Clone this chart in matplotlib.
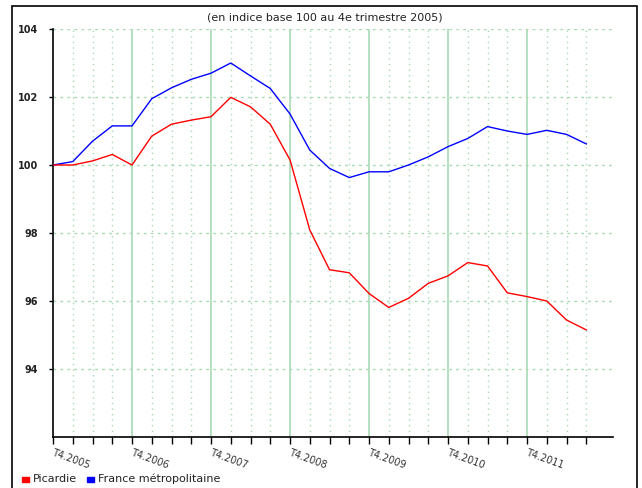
import matplotlib
matplotlib.use("Agg")
import matplotlib.pyplot as plt
from matplotlib.patches import Rectangle
import numpy as np

quarters = list(range(28))  # T4.2005 .. T3.2012
tick_labels = ["T4.2005", "T4.2006", "T4.2007", "T4.2008", "T4.2009", "T4.2010", "T4.2011"]
picardie = [100.0, 100.0, 100.12, 100.31, 100.0, 100.85, 101.2, 101.32, 101.42, 101.99,
            101.71, 101.2, 100.15, 98.09, 96.92, 96.83, 96.22, 95.81, 96.08, 96.52,
            96.74, 97.13, 97.03, 96.24, 96.13, 96.0, 95.44, 95.15]
france = [100.0, 100.1, 100.7, 101.15, 101.15, 101.95, 102.27, 102.52, 102.7, 103.0,
          102.62, 102.25, 101.5, 100.44, 99.9, 99.63, 99.8, 99.8, 100.0, 100.24,
          100.54, 100.78, 101.13, 101.0, 100.9, 101.02, 100.9, 100.62]
yticks = [94, 96, 98, 100, 102, 104]

W, H = 642, 488
fig = plt.figure(figsize=(W / 100, H / 100), dpi=100)
fig.patch.set_facecolor("white")

# outer frame
fig.add_artist(Rectangle((12 / W, -0.01), (637 - 12) / W, (H - 6) / H + 0.01,
                         transform=fig.transFigure, fill=False, edgecolor="black", lw=1.2))

x0, x1 = 53, 613.3
y_top, y_bot = 29, 437
ax = fig.add_axes([x0 / W, 1 - y_bot / H, (x1 - x0) / W, (y_bot - y_top) / H])
step = (586.3 - 53) / 27
ax.set_xlim(0, (x1 - x0) / step)
ax.set_ylim(92, 104)

green = "#a9d9b5"
for q in quarters[1:]:
    if q % 4 == 0:
        ax.axvline(q, color=green, lw=1.2, zorder=1)
    else:
        ax.axvline(q, color=green, lw=1.0, ls=(0, (1, 3)), zorder=1)
for yv in yticks:
    ax.axhline(yv, color=green, lw=1.0, ls=(0, (2, 3)), zorder=1)

ax.plot(quarters, france, color="#0000ff", lw=1.0, zorder=3)
ax.plot(quarters, picardie, color="#ff0000", lw=1.0, zorder=3)

for s in ["top", "right"]:
    ax.spines[s].set_visible(False)
ax.spines["left"].set_linewidth(1.2)
ax.spines["bottom"].set_linewidth(1.2)
ax.spines["left"].set_bounds(92, 104)

ax.set_yticks(yticks)
ax.set_yticklabels([str(v) for v in yticks], fontsize=7, fontweight="bold", color="#222222")
ax.tick_params(axis="y", length=3, width=1, pad=8)
ax.set_xticks(quarters)
ax.set_xticklabels([""] * len(quarters))
ax.tick_params(axis="x", length=5, width=1)

for i, lab in enumerate(tick_labels):
    ax.text(i * 4 + 0.05, 91.7, lab, rotation=-20, fontsize=7, color="#333333",
            ha="left", va="top", rotation_mode="anchor")

fig.text(325 / W, 1 - 17 / H, "(en indice base 100 au 4e trimestre 2005)",
         ha="center", va="center", fontsize=8, color="#222222")

# legend
fig.add_artist(Rectangle((22 / W, 1 - 482 / H), 7 / W, 5 / H, transform=fig.transFigure,
                         color="#ff0000"))
fig.text(33 / W, 1 - 479 / H, "Picardie", fontsize=8, va="center", ha="left", color="#222222")
fig.add_artist(Rectangle((87 / W, 1 - 482 / H), 7 / W, 5 / H, transform=fig.transFigure,
                         color="#0000ff"))
fig.text(98 / W, 1 - 479 / H, "France métropolitaine", fontsize=8, va="center", ha="left",
         color="#222222")

fig.savefig("out.png", dpi=100)
